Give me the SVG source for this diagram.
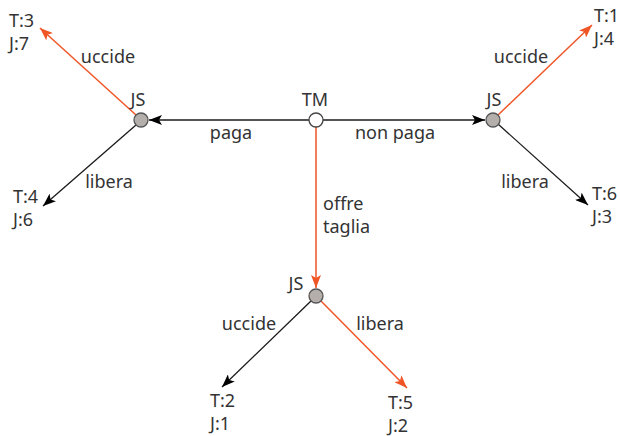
<svg xmlns="http://www.w3.org/2000/svg" width="620" height="436" viewBox="0 0 620 436">
  <defs>
    <style>
      text { font-family: "Noto Sans", "Open Sans", sans-serif; font-size: 18px; fill: #333; }
      .edge { fill: none; stroke-width: 1.3; }
      .blk { stroke: #1a1a1a; marker-end: url(#ahBlack); }
      .org { stroke: #f05526; stroke-width: 1.5; marker-end: url(#ahOrange); }
      .chance { fill: #b5afac; stroke: #555; stroke-width: 1.3; }
      .root { fill: #fff; stroke: #444; stroke-width: 1.3; }
      .mid { text-anchor: middle; }
    </style>
    <marker id="ahBlack" viewBox="0 0 13 10" markerWidth="13" markerHeight="10" refX="13" refY="5" orient="auto" markerUnits="userSpaceOnUse">
      <path d="M0,0 L13,5 L0,10 L3,5 z" fill="#000"/>
    </marker>
    <marker id="ahOrange" viewBox="0 0 13 10" markerWidth="13" markerHeight="10" refX="13" refY="5" orient="auto" markerUnits="userSpaceOnUse">
      <path d="M0,0 L13,5 L0,10 L3,5 z" fill="#f05526"/>
    </marker>
  </defs>

  <!-- connectors -->
  <g id="connectors">
    <path class="edge blk" d="M309,120 L149,120"/>
    <path class="edge blk" d="M323,120 L485,120"/>
    <path class="edge org" d="M316,127 L316,288"/>
    <path class="edge org" d="M136,115 L40,28"/>
    <path class="edge blk" d="M136,125 L43,206"/>
    <path class="edge org" d="M498,115 L592,25"/>
    <path class="edge blk" d="M498,124 L588,205"/>
    <path class="edge blk" d="M311,301 L222,387"/>
    <path class="edge org" d="M321,301 L407,388"/>
  </g>

  <!-- connector labels -->
  <g id="edge-labels">
    <text x="231" y="139" class="mid">paga</text>
    <text x="395" y="139" class="mid">non paga</text>
    <text x="323" y="210">offre</text>
    <text x="323" y="233">taglia</text>
    <text x="108" y="63" class="mid">uccide</text>
    <text x="109" y="188" class="mid">libera</text>
    <text x="521" y="63" class="mid">uccide</text>
    <text x="525" y="188" class="mid">libera</text>
    <text x="249" y="330" class="mid">uccide</text>
    <text x="380" y="330" class="mid">libera</text>
  </g>

  <!-- decision nodes -->
  <g id="node-tm">
    <circle class="root" cx="316" cy="120" r="7"/>
    <text x="315" y="106" class="mid">TM</text>
  </g>
  <g id="node-js-left">
    <circle class="chance" cx="141" cy="120" r="7"/>
    <text x="138" y="106" class="mid">JS</text>
  </g>
  <g id="node-js-right">
    <circle class="chance" cx="493" cy="120" r="7"/>
    <text x="494" y="106" class="mid">JS</text>
  </g>
  <g id="node-js-bottom">
    <circle class="chance" cx="316" cy="296" r="7"/>
    <text x="296" y="290" class="mid">JS</text>
  </g>

  <!-- payoffs -->
  <g id="leaf-t3-j7">
    <text x="9" y="27">T:3</text>
    <text x="9" y="50">J:7</text>
  </g>
  <g id="leaf-t4-j6">
    <text x="13" y="203">T:4</text>
    <text x="13" y="226">J:6</text>
  </g>
  <g id="leaf-t1-j4">
    <text x="594" y="22">T:1</text>
    <text x="594" y="45">J:4</text>
  </g>
  <g id="leaf-t6-j3">
    <text x="592" y="200">T:6</text>
    <text x="592" y="223">J:3</text>
  </g>
  <g id="leaf-t2-j1">
    <text x="210" y="407">T:2</text>
    <text x="210" y="430">J:1</text>
  </g>
  <g id="leaf-t5-j2">
    <text x="388" y="409">T:5</text>
    <text x="388" y="432">J:2</text>
  </g>
</svg>
